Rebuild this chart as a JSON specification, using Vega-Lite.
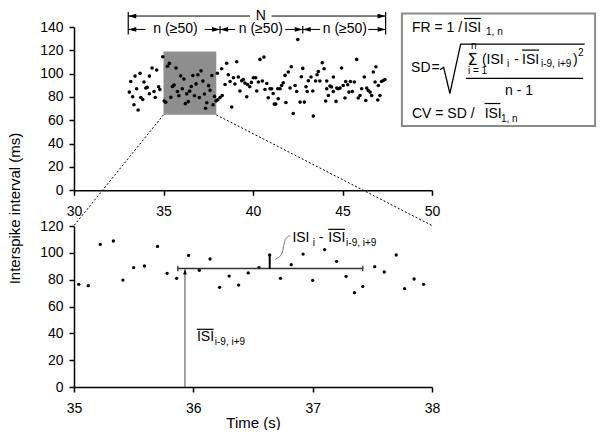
{
  "$schema": "https://vega.github.io/schema/vega-lite/v6.json",
  "padding": {"left": 6, "top": 9, "right": 0, "bottom": 0},
  "background": "white",
  "bounds": "flush",
  "spacing": 35,
  "config": {
    "font": "Liberation Sans",
    "view": {"stroke": null},
    "axis": {"grid": false, "domainColor": "black", "domainWidth": 1.5, "tickColor": "black", "tickWidth": 1.5, "tickSize": 5, "labelFont": "Liberation Sans", "labelFontSize": 14, "labelColor": "black", "labelFlush": false, "labelOverlap": false, "titleFont": "Liberation Sans", "titleFontSize": 15, "titleFontWeight": "normal", "titleColor": "black"}
  },
  "datasets": {
    "spikes": [
      {"t":33.09,"isi":84.2},{"t":33.17,"isi":93.3},{"t":33.28,"isi":80.2},{"t":33.35,"isi":73.3},{"t":33.41,"isi":97.9},{"t":33.50,"isi":87.0},{"t":33.58,"isi":68.8},{"t":33.69,"isi":100.2},{"t":33.73,"isi":79.6},{"t":33.84,"isi":77.9},{"t":33.91,"isi":92.8},{"t":34.01,"isi":87.7},{"t":34.09,"isi":88.2},{"t":34.21,"isi":97.9},{"t":34.21,"isi":82.8},{"t":34.36,"isi":104.8},{"t":34.47,"isi":84.7},{"t":34.54,"isi":79.6},{"t":34.62,"isi":103.1},{"t":34.73,"isi":88.8},{"t":34.80,"isi":86.4},{"t":34.96,"isi":114.5},
      {"t":35.04,"isi":76.5},{"t":35.12,"isi":75.5},{"t":35.22,"isi":106.3},{"t":35.33,"isi":108.8},{"t":35.41,"isi":79.7},{"t":35.50,"isi":89.0},{"t":35.59,"isi":90.2},{"t":35.70,"isi":104.8},{"t":35.78,"isi":84.7},{"t":35.86,"isi":81.0},{"t":35.96,"isi":98.1},{"t":36.05,"isi":87.0},{"t":36.14,"isi":95.4},{"t":36.22,"isi":74.3},{"t":36.30,"isi":82.7},{"t":36.38,"isi":76.0},{"t":36.46,"isi":85.0},{"t":36.55,"isi":89.0},{"t":36.64,"isi":98.4},{"t":36.73,"isi":81.0},{"t":36.82,"isi":91.2},{"t":36.92,"isi":99.1},{"t":37.00,"isi":79.5},{"t":37.10,"isi":102.4},{"t":37.20,"isi":93.7},{"t":37.28,"isi":82.5},{"t":37.35,"isi":70.3},{"t":37.42,"isi":75.0},{"t":37.52,"isi":89.7},{"t":37.60,"isi":85.7},{"t":37.70,"isi":98.4},{"t":37.77,"isi":73.3},{"t":37.85,"isi":80.5},{"t":37.93,"isi":76.5},
      {"t":38.01,"isi":100.3},{"t":38.03,"isi":77.6},{"t":38.16,"isi":79.6},{"t":38.25,"isi":104.2},{"t":38.28,"isi":81.3},{"t":38.44,"isi":90.7},{"t":38.53,"isi":108.9},{"t":38.62,"isi":99.1},{"t":38.72,"isi":93.3},{"t":38.81,"isi":71.4},{"t":38.91,"isi":96.5},{"t":38.99,"isi":91.1},
      {"t":39.09,"isi":110.2},{"t":39.18,"isi":97.1},{"t":39.27,"isi":85.1},{"t":39.37,"isi":93.9},{"t":39.46,"isi":95.0},{"t":39.55,"isi":91.9},{"t":39.65,"isi":80.2},{"t":39.70,"isi":90.7},{"t":39.82,"isi":88.8},{"t":39.91,"isi":92.5},{"t":40.02,"isi":96.5},{"t":40.15,"isi":96.5},{"t":40.21,"isi":85.1},{"t":40.30,"isi":92.8},{"t":40.39,"isi":112.2},{"t":40.52,"isi":93.7},{"t":40.61,"isi":114.2},{"t":40.67,"isi":86.4},{"t":40.77,"isi":91.6},{"t":40.85,"isi":79.3},{"t":40.95,"isi":87.0},
      {"t":41.04,"isi":87.0},{"t":41.13,"isi":83.0},{"t":41.19,"isi":73.9},{"t":41.27,"isi":73.9},{"t":41.38,"isi":87.0},{"t":41.41,"isi":78.5},{"t":41.51,"isi":87.0},{"t":41.60,"isi":89.9},{"t":41.69,"isi":92.2},{"t":41.79,"isi":98.5},{"t":41.84,"isi":75.3},{"t":41.97,"isi":101.4},{"t":42.07,"isi":87.7},{"t":42.14,"isi":105.9},{"t":42.25,"isi":65.9},{"t":42.35,"isi":89.9},{"t":42.44,"isi":84.7},{"t":42.50,"isi":129.3},{"t":42.63,"isi":75.6},{"t":42.70,"isi":97.3},{"t":42.78,"isi":104.5},{"t":42.87,"isi":75.6},{"t":42.96,"isi":88.8},
      {"t":43.03,"isi":84.7},{"t":43.09,"isi":93.9},{"t":43.24,"isi":97.1},{"t":43.34,"isi":85.1},{"t":43.37,"isi":63.6},{"t":43.50,"isi":93.7},{"t":43.58,"isi":99.1},{"t":43.65,"isi":101.9},{"t":43.74,"isi":93.7},{"t":43.87,"isi":109.3},{"t":43.97,"isi":104.2},{"t":44.06,"isi":76.5},{"t":44.12,"isi":87.0},{"t":44.12,"isi":93.7},{"t":44.21,"isi":81.3},{"t":44.30,"isi":89.4},{"t":44.39,"isi":88.5},{"t":44.49,"isi":84.7},{"t":44.49,"isi":97.1},{"t":44.64,"isi":76.2},{"t":44.68,"isi":87.6},{"t":44.77,"isi":87.0},{"t":44.86,"isi":87.6},{"t":44.95,"isi":104.8},
      {"t":45.04,"isi":89.9},{"t":45.14,"isi":79.1},{"t":45.18,"isi":93.3},{"t":45.29,"isi":90.5},{"t":45.36,"isi":84.2},{"t":45.44,"isi":93.3},{"t":45.55,"isi":84.7},{"t":45.66,"isi":92.8},{"t":45.79,"isi":112.2},{"t":45.88,"isi":79.1},{"t":45.98,"isi":81.3},{"t":46.07,"isi":87.0},{"t":46.22,"isi":97.1},{"t":46.30,"isi":77.0},{"t":46.35,"isi":87.6},{"t":46.44,"isi":85.6},{"t":46.54,"isi":84.2},{"t":46.63,"isi":81.3},{"t":46.72,"isi":101.4},{"t":46.82,"isi":92.8},{"t":46.87,"isi":105.9},{"t":46.97,"isi":77.4},{"t":47.00,"isi":89.9},{"t":47.09,"isi":81.3},{"t":47.18,"isi":93.3},{"t":47.28,"isi":94.1},{"t":47.37,"isi":95.0}
    ],
    "window": [{"x":35,"x2":37.95,"y":64.7,"y2":119}],
    "zoomLines": [{"x":35,"y":64.7,"x2":30,"y2":-30.2},{"x":37.95,"y":64.7,"x2":50,"y2":-30.2}],
    "dimLines": [{"x":33.03,"x2":39.83,"y":149.4},{"x":41.04,"x2":47.41,"y":149.4},{"x":33.03,"x2":34.0,"y":137.9},{"x":37.3,"x2":38.16,"y":137.9},{"x":38.16,"x2":39.0,"y":137.9},{"x":41.8,"x2":42.78,"y":137.9},{"x":42.78,"x2":43.74,"y":137.9},{"x":46.44,"x2":47.41,"y":137.9}],
    "dimBars": [{"x":33.03,"y":133.6,"y2":152.8},{"x":47.41,"y":133.6,"y2":152.8},{"x":38.16,"y":134.5,"y2":140.8},{"x":42.78,"y":134.5,"y2":140.8}],
    "arrowsLeft": [{"x":33.03,"y":149.4},{"x":33.03,"y":137.9},{"x":38.16,"y":137.9},{"x":42.78,"y":137.9}],
    "arrowsRight": [{"x":47.41,"y":149.4},{"x":38.16,"y":137.9},{"x":42.78,"y":137.9},{"x":47.41,"y":137.9}],
    "dimLabels": [{"x":40.43,"y":149.4,"text":"N"},{"x":35.67,"y":137.9,"text":"n (≥50)"},{"x":40.44,"y":137.9,"text":"n (≥50)"},{"x":45.13,"y":137.9,"text":"n (≥50)"}],
    "box": [{"x":48.32,"x2":59.11,"y":55.1,"y2":151.6}],
    "formulaMain": [
      {"x":48.88,"y":135.9,"text":"FR = 1 /"},{"x":51.79,"y":135.9,"text":"ISI"},
      {"x":48.83,"y":101.6,"text":"SD"},{"x":49.97,"y":101.6,"text":"="},
      {"x":52.79,"y":108.7,"text":"(ISI"},{"x":54.58,"y":108.7,"text":"-"},{"x":55.03,"y":108.7,"text":"ISI"},{"x":57.88,"y":108.7,"text":")"},
      {"x":54.08,"y":81.6,"text":"n - 1"},
      {"x":48.88,"y":61.6,"text":"CV = SD /"},{"x":52.94,"y":61.6,"text":"ISI"}
    ],
    "formulaSub": [
      {"x":53.02,"y":133.1,"text":"1, n"},{"x":52.18,"y":121.4,"text":"n"},{"x":52.01,"y":99.9,"text":"i = 1"},{"x":54.19,"y":105.9,"text":"i"},{"x":56.09,"y":105.9,"text":"i-9, i+9"},{"x":58.16,"y":115.4,"text":"2"},{"x":53.85,"y":58.7,"text":"1, n"}
    ],
    "sigma": [{"x":51.98,"y":107.0,"text":"Σ"}],
    "formulaBars": [{"x":51.79,"x2":52.72,"y":147.3},{"x":55.03,"x2":55.98,"y":120.2},{"x":52.94,"x2":53.82,"y":74.4},{"x":51.90,"x2":58.44,"y":95.9}],
    "radical": [{"o":1,"x":50.45,"y":103.3},{"o":2,"x":50.65,"y":105.5},{"o":3,"x":51.0,"y":83.0},{"o":4,"x":51.6,"y":125.4},{"o":5,"x":58.53,"y":125.4}],
    "meanLine": [{"x":35.87,"x2":37.42,"y":88.3}],
    "meanCaps": [{"x":35.87,"y":86.2,"y2":90.4},{"x":37.42,"y":86.2,"y2":90.4}],
    "devBar": [{"x":36.64,"y":88.3,"y2":98.4}],
    "upArrow": [{"x":35.93,"y":0,"y2":86.5}],
    "upHead": [{"x":35.93,"y":88.3}],
    "connector": [{"o":1,"x":36.686,"y":95.2},{"o":2,"x":36.737,"y":97.4},{"o":3,"x":36.753,"y":102.6},{"o":4,"x":36.762,"y":108.6},{"o":5,"x":36.779,"y":111.5},{"o":6,"x":36.812,"y":113.0}],
    "zoomMain": [{"x":36.83,"y":108.0,"text":"ISI"},{"x":37.05,"y":108.0,"text":"-"},{"x":37.13,"y":108.0,"text":"ISI"},{"x":36.03,"y":34.3,"text":"ISI"}],
    "zoomSub": [{"x":37.00,"y":105.1,"text":"i"},{"x":37.28,"y":105.1,"text":"i-9, i+9"},{"x":36.18,"y":31.1,"text":"i-9, i+9"}],
    "zoomBars": [{"x":37.13,"x2":37.27,"y":117.5},{"x":36.03,"x2":36.17,"y":43.0}]
  },
  "vconcat": [
    {
      "width": 358,
      "height": 163.3,
      "layer": [
        {
          "data": {"name": "window"},
          "mark": {"type": "rect", "color": "#8e8e8e"},
          "encoding": {
            "x": {"field": "x", "type": "quantitative", "title": null, "scale": {"domain": [30, 50], "nice": false, "zero": false}, "axis": {"title": null, "values": [30, 35, 40, 45, 50], "format": "d", "labelPadding": 9, "labelOverlap": false}},
            "x2": {"field": "x2"},
            "y": {"field": "y", "type": "quantitative", "title": null, "scale": {"domain": [0, 140], "nice": false, "zero": false}, "axis": {"title": null, "values": [0, 20, 40, 60, 80, 100, 120, 140], "tickCount": 8, "format": "d", "labelPadding": 6, "labelOverlap": false, "labelBound": false}},
            "y2": {"field": "y2"}
          }
        },
        {
          "data": {"name": "zoomLines"},
          "mark": {"type": "rule", "color": "black", "strokeWidth": 1, "strokeDash": [2, 2]},
          "encoding": {
            "x": {"field": "x", "type": "quantitative", "title": null}, "x2": {"field": "x2"},
            "y": {"field": "y", "type": "quantitative", "title": null}, "y2": {"field": "y2"}
          }
        },
        {
          "data": {"name": "spikes"},
          "mark": {"type": "circle", "color": "black", "opacity": 1, "size": 13},
          "encoding": {
            "x": {"field": "t", "type": "quantitative", "title": null},
            "y": {"field": "isi", "type": "quantitative", "title": null, "axis": {"values": [0, 20, 40, 60, 80, 100, 120, 140], "tickCount": 8, "labelOverlap": false}}
          }
        },
        {
          "data": {"name": "dimLines"},
          "mark": {"type": "rule", "color": "black", "strokeWidth": 1},
          "encoding": {
            "x": {"field": "x", "type": "quantitative", "title": null}, "x2": {"field": "x2"},
            "y": {"field": "y", "type": "quantitative", "title": null}
          }
        },
        {
          "data": {"name": "dimBars"},
          "mark": {"type": "rule", "color": "black", "strokeWidth": 1.2},
          "encoding": {
            "x": {"field": "x", "type": "quantitative", "title": null},
            "y": {"field": "y", "type": "quantitative", "title": null}, "y2": {"field": "y2"}
          }
        },
        {
          "data": {"name": "arrowsLeft"},
          "mark": {"type": "point", "filled": true, "color": "black", "opacity": 1, "size": 64, "shape": "M0,0L2,-0.6L2,0.6Z"},
          "encoding": {
            "x": {"field": "x", "type": "quantitative", "title": null},
            "y": {"field": "y", "type": "quantitative", "title": null}
          }
        },
        {
          "data": {"name": "arrowsRight"},
          "mark": {"type": "point", "filled": true, "color": "black", "opacity": 1, "size": 64, "shape": "M0,0L-2,-0.6L-2,0.6Z"},
          "encoding": {
            "x": {"field": "x", "type": "quantitative", "title": null},
            "y": {"field": "y", "type": "quantitative", "title": null}
          }
        },
        {
          "data": {"name": "dimLabels"},
          "mark": {"type": "text", "font": "Liberation Sans", "fontSize": 14, "color": "black", "align": "center", "baseline": "middle"},
          "encoding": {
            "x": {"field": "x", "type": "quantitative", "title": null},
            "y": {"field": "y", "type": "quantitative", "title": null},
            "text": {"field": "text"}
          }
        },
        {
          "data": {"name": "box"},
          "mark": {"type": "rect", "fill": null, "fillOpacity": 0, "stroke": "#8a8a8a", "strokeWidth": 2},
          "encoding": {
            "x": {"field": "x", "type": "quantitative", "title": null}, "x2": {"field": "x2"},
            "y": {"field": "y", "type": "quantitative", "title": null}, "y2": {"field": "y2"}
          }
        },
        {
          "data": {"name": "formulaMain"},
          "mark": {"type": "text", "font": "Liberation Sans", "fontSize": 14, "color": "black", "align": "left", "baseline": "alphabetic"},
          "encoding": {
            "x": {"field": "x", "type": "quantitative", "title": null},
            "y": {"field": "y", "type": "quantitative", "title": null},
            "text": {"field": "text"}
          }
        },
        {
          "data": {"name": "formulaSub"},
          "mark": {"type": "text", "font": "Liberation Sans", "fontSize": 10, "color": "black", "align": "left", "baseline": "alphabetic"},
          "encoding": {
            "x": {"field": "x", "type": "quantitative", "title": null},
            "y": {"field": "y", "type": "quantitative", "title": null},
            "text": {"field": "text"}
          }
        },
        {
          "data": {"name": "sigma"},
          "mark": {"type": "text", "font": "DejaVu Sans", "fontSize": 16, "color": "black", "align": "left", "baseline": "alphabetic"},
          "encoding": {
            "x": {"field": "x", "type": "quantitative", "title": null},
            "y": {"field": "y", "type": "quantitative", "title": null},
            "text": {"field": "text"}
          }
        },
        {
          "data": {"name": "formulaBars"},
          "mark": {"type": "rule", "color": "black", "strokeWidth": 1.2},
          "encoding": {
            "x": {"field": "x", "type": "quantitative", "title": null}, "x2": {"field": "x2"},
            "y": {"field": "y", "type": "quantitative", "title": null}
          }
        },
        {
          "data": {"name": "radical"},
          "mark": {"type": "line", "color": "black", "strokeWidth": 1.3},
          "encoding": {
            "x": {"field": "x", "type": "quantitative", "title": null},
            "y": {"field": "y", "type": "quantitative", "title": null},
            "order": {"field": "o", "type": "quantitative"}
          }
        }
      ]
    },
    {
      "width": 358,
      "height": 161,
      "layer": [
        {
          "data": {"name": "spikes"},
          "transform": [{"filter": "datum.t >= 35 && datum.t <= 38"}],
          "mark": {"type": "circle", "color": "black", "opacity": 1, "size": 11},
          "encoding": {
            "x": {"field": "t", "type": "quantitative", "title": "Time (s)", "scale": {"domain": [35, 38], "nice": false, "zero": false}, "axis": {"title": "Time (s)", "values": [35, 36, 37, 38], "format": "d", "labelPadding": 9, "labelOverlap": false, "titleY": 40, "titleBaseline": "alphabetic"}},
            "y": {"field": "isi", "type": "quantitative", "title": "Interspike interval (ms)", "scale": {"domain": [0, 120], "nice": false, "zero": false}, "axis": {"title": "Interspike interval (ms)", "values": [0, 20, 40, 60, 80, 100, 120], "tickCount": 7, "format": "d", "labelPadding": 6, "labelOverlap": false, "labelBound": false, "titleX": -60, "titleY": -18, "titleAngle": 270, "titleAlign": "center", "titleBaseline": "middle"}}
          }
        },
        {
          "data": {"name": "meanLine"},
          "mark": {"type": "rule", "color": "#333333", "strokeWidth": 1.5},
          "encoding": {
            "x": {"field": "x", "type": "quantitative"}, "x2": {"field": "x2"},
            "y": {"field": "y", "type": "quantitative", "axis": {"values": [0, 20, 40, 60, 80, 100, 120], "tickCount": 7, "labelOverlap": false}}
          }
        },
        {
          "data": {"name": "meanCaps"},
          "mark": {"type": "rule", "color": "#333333", "strokeWidth": 1.3},
          "encoding": {
            "x": {"field": "x", "type": "quantitative"},
            "y": {"field": "y", "type": "quantitative"}, "y2": {"field": "y2"}
          }
        },
        {
          "data": {"name": "devBar"},
          "mark": {"type": "rule", "color": "black", "strokeWidth": 2},
          "encoding": {
            "x": {"field": "x", "type": "quantitative"},
            "y": {"field": "y", "type": "quantitative"}, "y2": {"field": "y2"}
          }
        },
        {
          "data": {"name": "upArrow"},
          "mark": {"type": "rule", "color": "#444444", "strokeWidth": 1},
          "encoding": {
            "x": {"field": "x", "type": "quantitative"},
            "y": {"field": "y", "type": "quantitative"}, "y2": {"field": "y2"}
          }
        },
        {
          "data": {"name": "upHead"},
          "mark": {"type": "point", "filled": true, "color": "black", "opacity": 1, "size": 36, "shape": "M0,0L-0.6,2L0.6,2Z"},
          "encoding": {
            "x": {"field": "x", "type": "quantitative"},
            "y": {"field": "y", "type": "quantitative"}
          }
        },
        {
          "data": {"name": "connector"},
          "mark": {"type": "line", "color": "#555555", "strokeWidth": 0.8, "interpolate": "basis"},
          "encoding": {
            "x": {"field": "x", "type": "quantitative"},
            "y": {"field": "y", "type": "quantitative"},
            "order": {"field": "o", "type": "quantitative"}
          }
        },
        {
          "data": {"name": "zoomMain"},
          "mark": {"type": "text", "font": "Liberation Sans", "fontSize": 14, "color": "black", "align": "left", "baseline": "alphabetic"},
          "encoding": {
            "x": {"field": "x", "type": "quantitative"},
            "y": {"field": "y", "type": "quantitative"},
            "text": {"field": "text"}
          }
        },
        {
          "data": {"name": "zoomSub"},
          "mark": {"type": "text", "font": "Liberation Sans", "fontSize": 10, "color": "black", "align": "left", "baseline": "alphabetic"},
          "encoding": {
            "x": {"field": "x", "type": "quantitative"},
            "y": {"field": "y", "type": "quantitative"},
            "text": {"field": "text"}
          }
        },
        {
          "data": {"name": "zoomBars"},
          "mark": {"type": "rule", "color": "black", "strokeWidth": 1.2},
          "encoding": {
            "x": {"field": "x", "type": "quantitative"}, "x2": {"field": "x2"},
            "y": {"field": "y", "type": "quantitative"}
          }
        }
      ]
    }
  ]
}
